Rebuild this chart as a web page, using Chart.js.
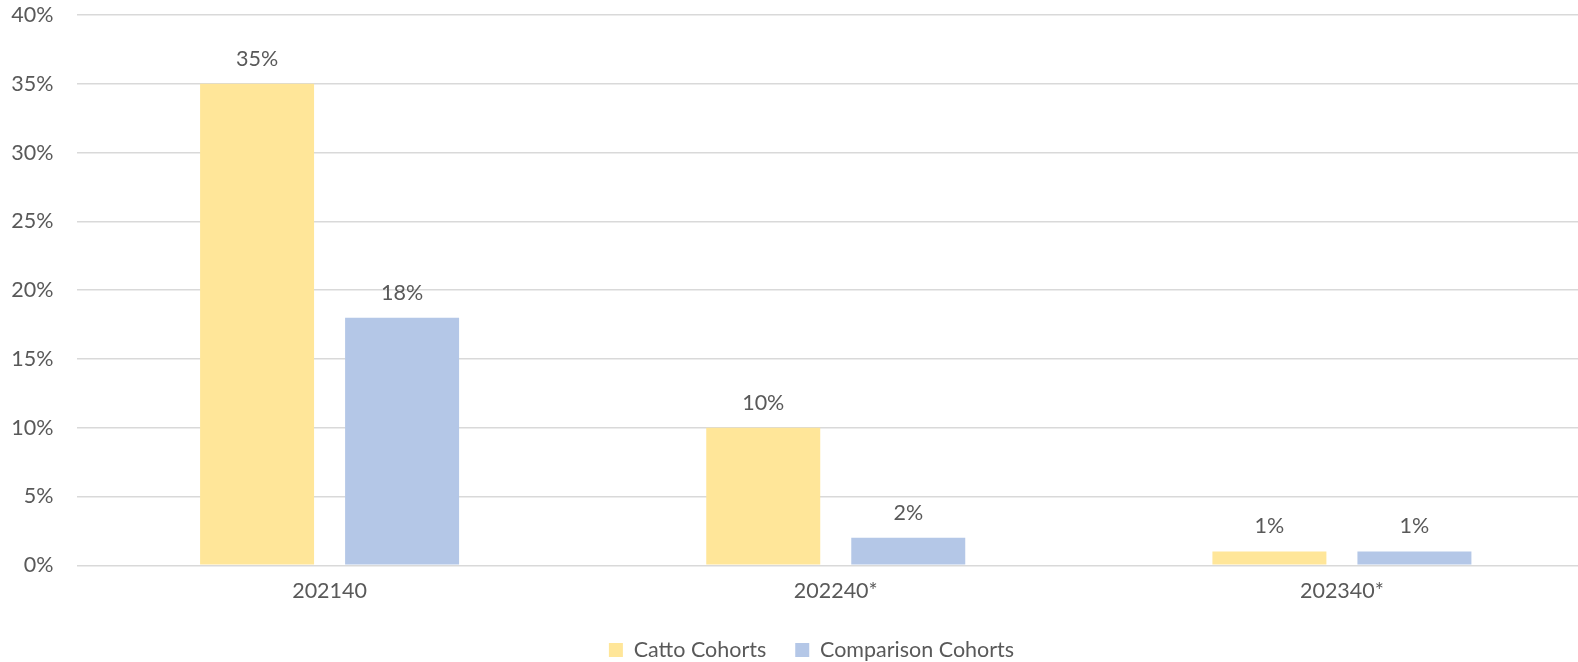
<!DOCTYPE html>
<html>
<head>
<meta charset="utf-8">
<script src="https://cdn.jsdelivr.net/npm/chart.js@4.4.0/dist/chart.umd.min.js"></script>
<style>
  html, body { margin: 0; padding: 0; background: #ffffff; overflow: hidden; }
  #wrap { width: 1578px; height: 662px; position: relative; overflow: hidden; }
  canvas { display: block; }
</style>
</head>
<body>
<div id="wrap"><canvas id="c" width="1595" height="662"></canvas></div>
<script>
const categories = ["202140", "202240*", "202340*"];
const cattoValues = [35, 10, 1];
const comparisonValues = [18, 2, 1];
const seriesNames = ["Catto Cohorts", "Comparison Cohorts"];
const yTicks = [0, 5, 10, 15, 20, 25, 30, 35, 40];

const FONT = "Lato, 'Open Sans', sans-serif";
const FS = 21.5;
const TEXT = "#595959";

const labelPlugin = {
  id: "barLabels",
  afterLayout(chart) {
    const lg = chart.legend;
    if (lg) { lg.left += 14; lg.right += 14; }
  },
  afterDatasetsDraw(chart) {
    const ctx = chart.ctx;
    ctx.save();
    ctx.font = FS + "px " + FONT;
    ctx.fillStyle = TEXT;
    ctx.textAlign = "center";
    ctx.textBaseline = "middle";
    chart.data.datasets.forEach((ds, i) => {
      chart.getDatasetMeta(i).data.forEach((bar, j) => {
        ctx.fillText(ds.data[j] + "%", bar.x, bar.y - 25);
      });
    });
    ctx.restore();
  }
};

new Chart(document.getElementById("c"), {
  type: "bar",
  data: {
    labels: categories,
    datasets: [
      { label: seriesNames[0], data: cattoValues, backgroundColor: "#FFE699",
        categoryPercentage: 0.573, barPercentage: 0.786 },
      { label: seriesNames[1], data: comparisonValues, backgroundColor: "#B4C7E7",
        categoryPercentage: 0.573, barPercentage: 0.786 }
    ]
  },
  options: {
    responsive: false,
    animation: false,
    devicePixelRatio: 1,
    layout: { padding: { top: 15, right: 0, left: 0, bottom: -8.75 } },
    plugins: {
      tooltip: { enabled: false },
      legend: {
        position: "bottom",
        labels: {
          boxWidth: 14, boxHeight: 14, color: TEXT,
          font: { family: FONT, size: FS }, padding: 29
        }
      }
    },
    scales: {
      x: {
        grid: { display: false, drawTicks: false },
        border: { display: false },
        ticks: { color: TEXT, font: { family: FONT, size: FS }, padding: 13 },
        afterFit(scale) { scale.height = 45; }
      },
      y: {
        min: 0, max: 40,
        afterBuildTicks(scale) { scale.ticks = yTicks.map(v => ({ value: v })); },
        afterFit(scale) { scale.width = 76.5; scale.paddingTop = 0; scale.paddingBottom = 0; },
        grid: { color: "#D9D9D9", lineWidth: 1.5, drawTicks: false },
        border: { display: false },
        ticks: { color: TEXT, font: { family: FONT, size: FS }, padding: 23,
                 callback: v => v + "%" }
      }
    }
  },
  plugins: [labelPlugin]
});
</script>
</body>
</html>
